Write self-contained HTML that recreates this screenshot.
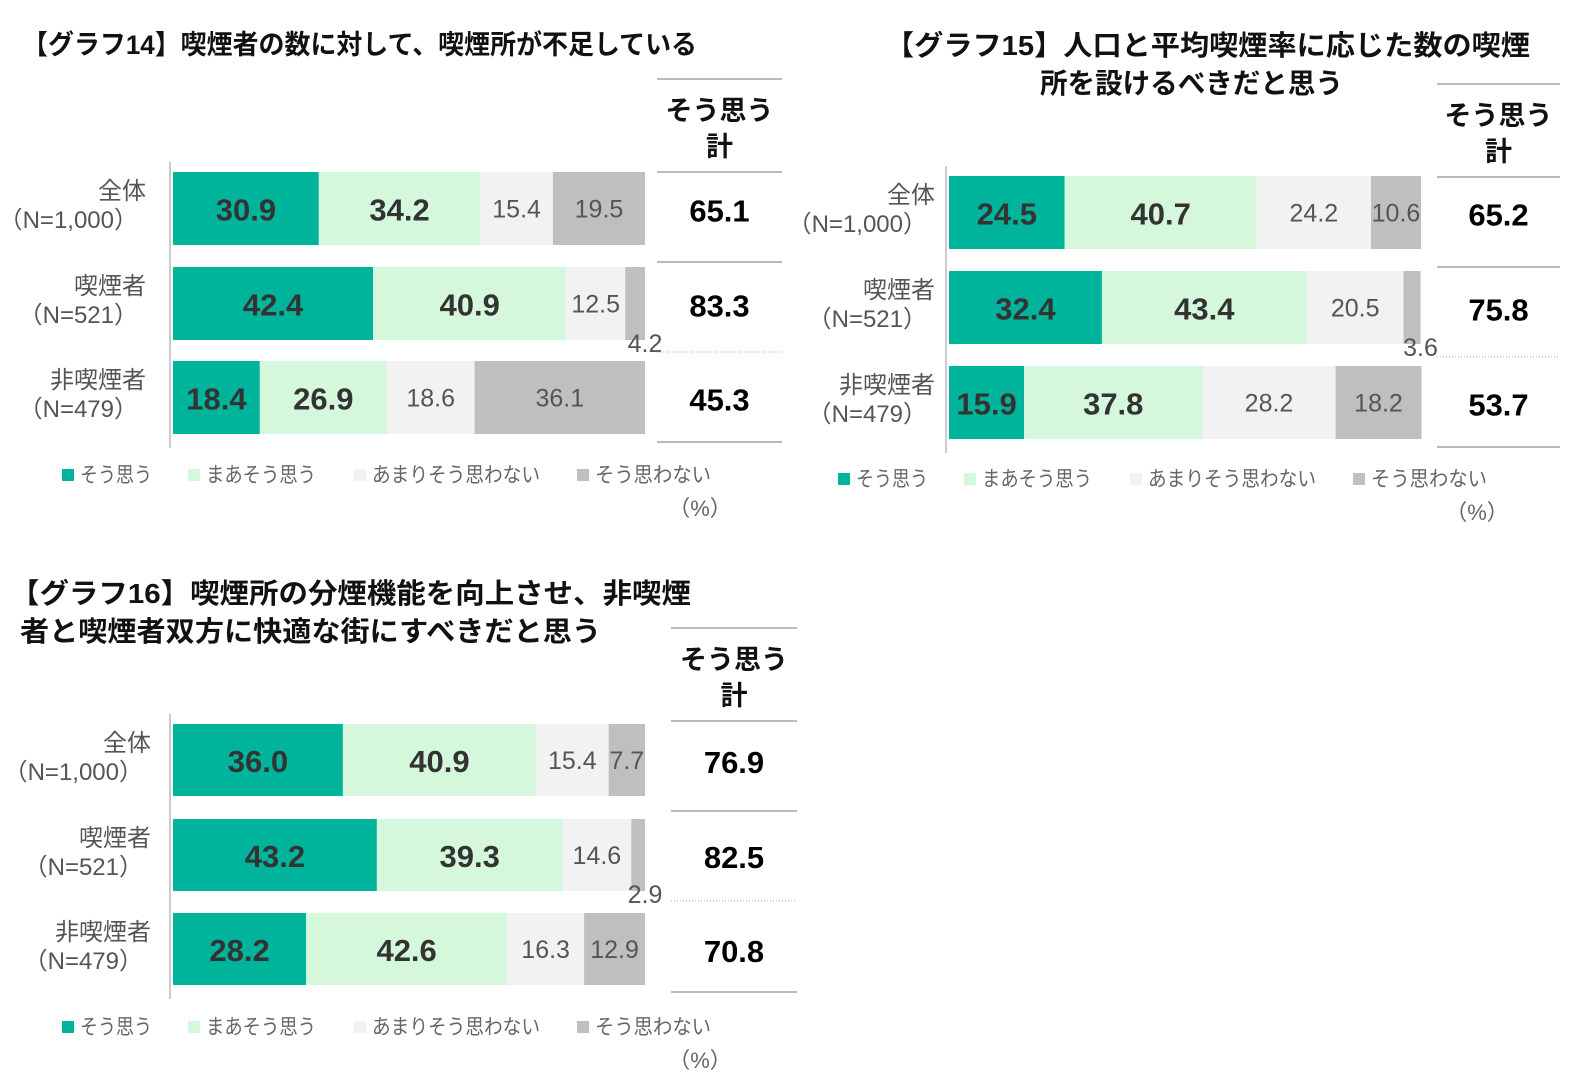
<!DOCTYPE html>
<html><head><meta charset="utf-8">
<style>
html,body{margin:0;padding:0;background:#fff;}
svg{display:block;font-family:"Liberation Sans","Noto Sans CJK JP",sans-serif;}
</style></head>
<body>
<svg id="s" width="1581" height="1091" viewBox="0 0 1581 1091">
<text x="22" y="54" font-size="27" font-weight="bold" fill="#111" textLength="675" lengthAdjust="spacingAndGlyphs">【グラフ14】喫煙者の数に対して、喫煙所が不足している</text>
<text x="885" y="55" font-size="28" font-weight="bold" fill="#111" textLength="645" lengthAdjust="spacingAndGlyphs">【グラフ15】人口と平均喫煙率に応じた数の喫煙</text>
<text x="1040" y="93" font-size="28" font-weight="bold" fill="#111" textLength="303" lengthAdjust="spacingAndGlyphs">所を設けるべきだと思う</text>
<text x="10" y="603" font-size="28" font-weight="bold" fill="#111" textLength="681" lengthAdjust="spacingAndGlyphs">【グラフ16】喫煙所の分煙機能を向上させ、非喫煙</text>
<text x="20" y="641" font-size="28" font-weight="bold" fill="#111" textLength="581" lengthAdjust="spacingAndGlyphs">者と喫煙者双方に快適な街にすべきだと思う</text>
</svg>
<script>
const categories=["全体","喫煙者","非喫煙者"];
const sampleSizes=["（N=1,000）","（N=521）","（N=479）"];
const seriesNames=["そう思う","まあそう思う","あまりそう思わない","そう思わない"];
const c14Agree=[30.9,42.4,18.4];
const c14Some=[34.2,40.9,26.9];
const c14Not=[15.4,12.5,18.6];
const c14Disagree=[19.5,4.2,36.1];
const c14Total=[65.1,83.3,45.3];
const c15Agree=[24.5,32.4,15.9];
const c15Some=[40.7,43.4,37.8];
const c15Not=[24.2,20.5,28.2];
const c15Disagree=[10.6,3.6,18.2];
const c15Total=[65.2,75.8,53.7];
const c16Agree=[36.0,43.2,28.2];
const c16Some=[40.9,39.3,42.6];
const c16Not=[15.4,14.6,16.3];
const c16Disagree=[7.7,2.9,12.9];
const c16Total=[76.9,82.5,70.8];

const NS="http://www.w3.org/2000/svg";
const svg=document.getElementById('s');
const colors=["#00B39B","#D5F8DC","#F2F2F2","#BFBFBF"];
function mk(tag,attrs,parent){const e=document.createElementNS(NS,tag);for(const k in attrs)e.setAttribute(k,attrs[k]);(parent||svg).appendChild(e);return e;}
function txt(x,y,s,size,attrs,parent){const t=mk('text',Object.assign({x:x,y:y,'font-size':size},attrs),parent);t.textContent=s;return t;}

function drawChart(id,cfg,series,totals){
  const g=mk('g',{});
  
  
  const xs=v=>cfg.x0+v/100*cfg.w;
  const ax=mk('line',{x1:cfg.x0-3,x2:cfg.x0-3,y1:cfg.rows[0]-10,y2:cfg.rows[2]+cfg.h+14,stroke:'#ccc','stroke-width':2},g);
  
  
  for(let i=0;i<categories.length;i++){
    const y=cfg.rows[i];
    const lb=txt(cfg.labelX,y+27,categories[i],24,{'text-anchor':'end',fill:'#555'},g);
    
    
    const nb=txt(cfg.labelX-8,y+56,sampleSizes[i],24,{'text-anchor':'end',fill:'#555'},g);
    
    
    let acc=0;
    for(let s=0;s<4;s++){
      const v=series[s][i];
      const x1=xs(acc),x2=xs(acc+v);
      const r=mk('rect',{x:x1,y:y,width:x2-x1,height:cfg.h,fill:colors[s]},g);
      
      
      const bold=s<2;
      let tx=(x1+x2)/2,ty=y+cfg.h/2+(bold?12:9);
      if(v<5){tx=x2;ty=y+cfg.h+12;}
      const t=txt(tx,ty,v.toFixed(1),bold?31:25,{'text-anchor':'middle',fill:bold?'#333':'#555','font-weight':bold?'bold':'normal'},g);
      
      
      acc+=v;
    }
    const tt=txt(cfg.tx+cfg.tw/2,y+cfg.h/2+13,totals[i].toFixed(1),31,{'text-anchor':'middle',fill:'#000','font-weight':'bold'},g);
    
    
  }
  cfg.lines.forEach((ly,k)=>{
    const l=mk('line',{x1:cfg.tx,x2:cfg.tx+cfg.tw,y1:ly,y2:ly,stroke:k===3?'#aaa':'#bbb','stroke-width':k===3?1:2},g);
    if(k===3)l.setAttribute('stroke-dasharray','1,2');
    
    
  });
  const h1=txt(cfg.tx+cfg.tw/2,cfg.lines[0]+41,'そう思う',27,{'text-anchor':'middle','font-weight':'bold',fill:'#111'},g);
  
  
  const h2=txt(cfg.tx+cfg.tw/2,cfg.lines[0]+77,'計',27,{'text-anchor':'middle','font-weight':'bold',fill:'#111'},g);
  
  
  const lx=cfg.legX;
  for(let s=0;s<4;s++){
    const x=lx+cfg.legOff[s];
    const sq=mk('rect',{x:x,y:cfg.legY-13,width:12,height:12,fill:colors[s]},g);
    
    
    const lt=txt(x+18,cfg.legY,seriesNames[s],21,{fill:'#666',textLength:cfg.legLen[s],lengthAdjust:'spacingAndGlyphs'},g);
    
    
  }
  const pc=txt(cfg.pctX,cfg.legY+34,'（%）',22,{'text-anchor':'middle',fill:'#666'},g);
  
  
}
const legOff=[0,126,292,515];
const legLen=[72,110,168,116];
drawChart('chart-14',{x0:173,w:472,h:73,rows:[172,267,361],labelX:146,tx:657,tw:125,lines:[79,172,262,352,442],legX:62,legY:482,legOff:legOff,legLen:legLen,pctX:700},[c14Agree,c14Some,c14Not,c14Disagree],c14Total);
drawChart('chart-15',{x0:949,w:472,h:73,rows:[176,271,366],labelX:935,tx:1437,tw:123,lines:[84,177,267,357,447],legX:838,legY:486,legOff:legOff,legLen:legLen,pctX:1477},[c15Agree,c15Some,c15Not,c15Disagree],c15Total);
drawChart('chart-16',{x0:173,w:472,h:72,rows:[724,819,913],labelX:151,tx:671,tw:126,lines:[628,721,811,901,992],legX:62,legY:1034,legOff:legOff,legLen:legLen,pctX:700},[c16Agree,c16Some,c16Not,c16Disagree],c16Total);
</script>
</body></html>
